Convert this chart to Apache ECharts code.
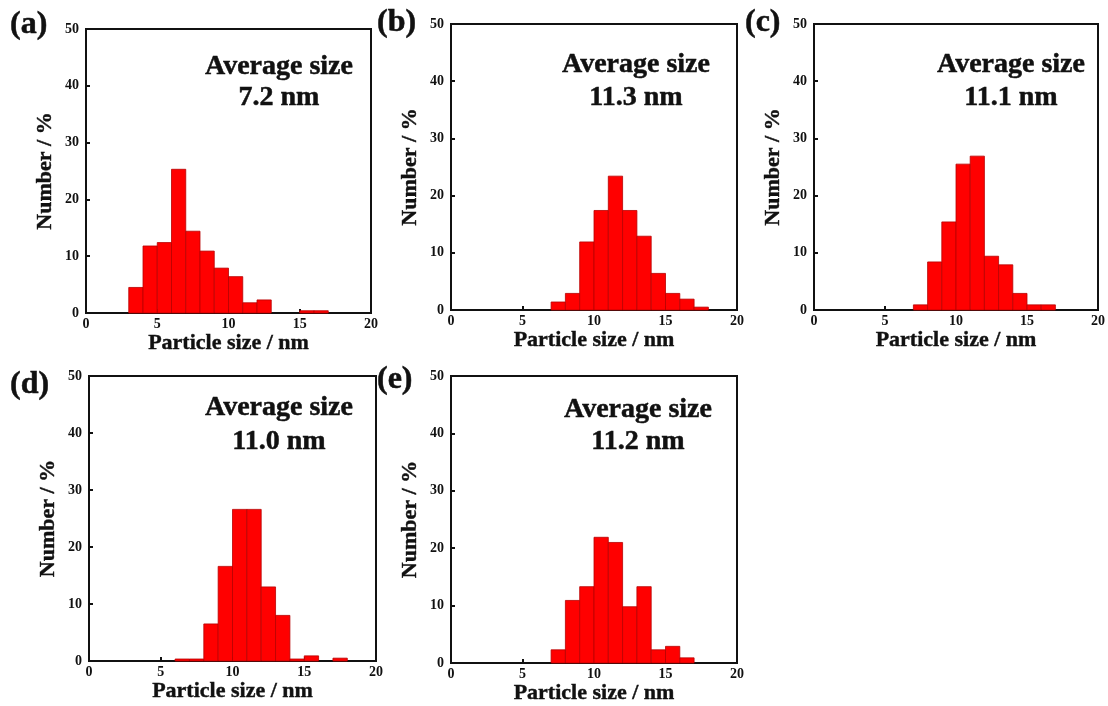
<!DOCTYPE html>
<html><head><meta charset="utf-8">
<script src="https://cdn.jsdelivr.net/npm/echarts@6/dist/echarts.min.js"></script>
<style>html,body{margin:0;padding:0;background:#fff}#c{width:1108px;height:706px}</style>
</head><body><div id="c"></div><script>
// ---- data ----
const binStarts = [0,1,2,3,4,5,6,7,8,9,10,11,12,13,14,15,16,17,18,19];
const binWidth = 1;
const countsA = [0,0,0,4.5,11.8,12.4,25.3,14.4,10.9,7.9,6.4,1.8,2.3,0,0,0.4,0.4,0,0,0];
const countsB = [0,0,0,0,0,0,0,1.4,2.9,11.9,17.4,23.4,17.4,12.9,6.4,2.9,1.9,0.5,0,0];
const countsC = [0,0,0,0,0,0,0,0.9,8.4,15.4,25.5,26.9,9.4,7.9,2.9,0.9,0.9,0,0,0];
const countsD = [0,0,0,0,0,0,0.35,0.35,6.5,16.6,26.6,26.6,13.0,8.0,0.35,0.9,0,0.5,0,0];
const countsE = [0,0,0,0,0,0,0,2.3,10.9,13.3,21.9,21.0,9.8,13.3,2.3,2.9,0.9,0,0,0];
const panelLabels = ['(a)','(b)','(c)','(d)','(e)'];
const averageSizes = ['7.2 nm','11.3 nm','11.1 nm','11.0 nm','11.2 nm'];
const avgTitle = 'Average size';
const xName = 'Particle size / nm';
const yName = 'Number / %';
const xRange = [0, 20], xStep = 5;
const yRange = [0, 50], yStep = 10;

// ---- layout ----
const allCounts = [countsA, countsB, countsC, countsD, countsE];
const grids = [
  {left:86, top:29, width:285, height:284},
  {left:451, top:24, width:286, height:286},
  {left:814, top:24, width:285, height:286},
  {left:89, top:376, width:287, height:285},
  {left:451, top:376, width:286, height:287}
];
const avgPos = [[279,67,98],[636,65,98],[1011,65,98],[279,408,442],[638,410,442]];
const labelPos = [[10,25],[377,23],[745,23],[10,385],[377,380]];
const FONT = "'Liberation Serif', 'Times New Roman', serif";
const INK = '#111';

const chart = echarts.init(document.getElementById('c'), null, {renderer:'canvas'});
const xAxes = [], yAxes = [], series = [], graphics = [];
function txt(x, y, text, size, align) {
  return {type:'text', x:x, y:y, z:10,
    style:{text:text, fill:INK, fontFamily:FONT, fontWeight:'bold', fontSize:size,
      align:align, verticalAlign:'middle', stroke:INK, lineWidth:0.5}};
}
const tickFont = {color:INK, fontFamily:FONT, fontWeight:'bold', fontSize:14};
const nameFont = {color:INK, fontFamily:FONT, fontWeight:'bold', fontSize:22,
  textBorderColor:INK, textBorderWidth:0.4};
grids.forEach((g, i) => {
  xAxes.push({
    type:'value', gridIndex:i, min:xRange[0], max:xRange[1], interval:xStep,
    axisLine:{show:true, onZero:false, lineStyle:{color:INK, width:2}},
    axisTick:{show:true, inside:true, length:4, lineStyle:{color:INK, width:2}},
    splitLine:{show:false},
    axisLabel:Object.assign({margin:4}, tickFont),
    name:xName, nameLocation:'middle', nameGap:18,
    nameTextStyle:nameFont
  });
  yAxes.push({
    type:'value', gridIndex:i, min:yRange[0], max:yRange[1], interval:yStep,
    axisLine:{show:true, onZero:false, lineStyle:{color:INK, width:2}},
    axisTick:{show:true, inside:true, length:4, lineStyle:{color:INK, width:2}},
    splitLine:{show:false},
    axisLabel:Object.assign({margin:7}, tickFont),
    name:yName, nameLocation:'middle', nameGap:30, nameRotate:90,
    nameTextStyle:nameFont
  });
  series.push({
    type:'custom', xAxisIndex:i, yAxisIndex:i,
    encode:{x:0, y:1},
    data: binStarts.map((b, k) => [b, allCounts[i][k]]),
    renderItem: (params, api) => {
      const x0 = api.value(0), h = api.value(1);
      if (!h) return null;
      const p0 = api.coord([x0, h]);
      const p1 = api.coord([x0 + binWidth, 0]);
      return {type:'rect', shape:{x:p0[0], y:p0[1], width:p1[0]-p0[0], height:p1[1]-p0[1]},
        style:{fill:'#ff0000', stroke:'#b80000', lineWidth:0.8}};
    },
    z:1
  });
  graphics.push(txt(avgPos[i][0], avgPos[i][1], avgTitle, 28, 'center'));
  graphics.push(txt(avgPos[i][0], avgPos[i][2], averageSizes[i], 28, 'center'));
  graphics.push(txt(labelPos[i][0], labelPos[i][1], panelLabels[i], 32, 'left'));
});

chart.setOption({
  animation:false,
  backgroundColor:'#fff',
  grid: grids.map(g => Object.assign({show:true, borderColor:INK, borderWidth:2, backgroundColor:'transparent', containLabel:false}, g)),
  xAxis:xAxes, yAxis:yAxes, series:series, graphic:graphics
});
</script></body></html>
